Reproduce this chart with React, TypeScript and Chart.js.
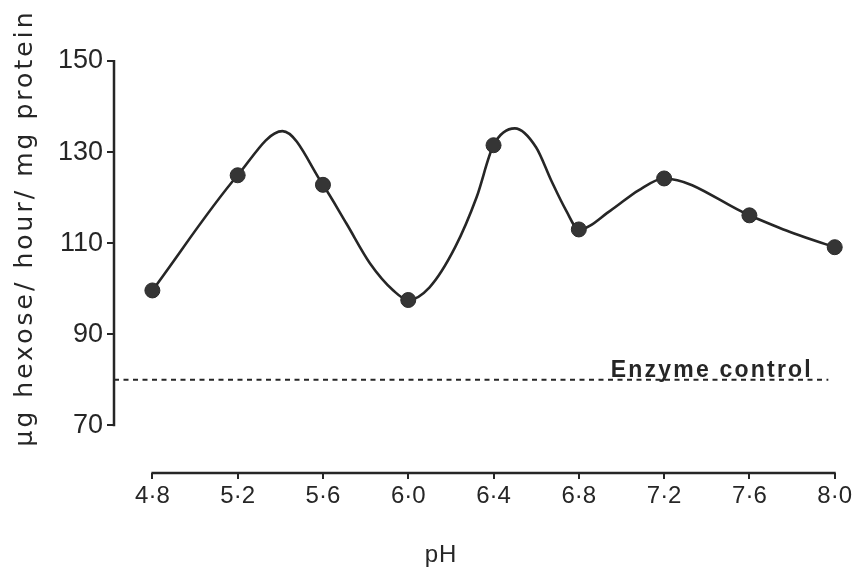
import React, { useEffect, useRef } from 'react';
import { Chart, registerables } from 'chart.js';

Chart.register(...registerables);

// ---- data ----
const PH = [4.8, 5.2, 5.6, 6.0, 6.4, 6.8, 7.2, 7.6, 8.0];
const ACTIVITY = [99.6, 124.9, 122.8, 97.5, 131.5, 113.0, 124.2, 116.1, 109.1];
// hand-drawn smooth curve, read at the measured points and at its visible turning points
const CURVE_PH = [4.8, 5.2, 5.41, 5.6, 5.71, 5.82, 5.93, 6.0, 6.1, 6.22, 6.32, 6.4, 6.5, 6.6, 6.67, 6.74, 6.8, 6.95, 7.08, 7.2, 7.6, 7.81, 8.0];
const CURVE_VAL = [99.6, 124.9, 134.6, 122.8, 114.3, 105.6, 99.6, 97.5, 100.3, 109.1, 120.0, 131.5, 135.2, 131.0, 123.8, 117.2, 113.0, 117.2, 121.6, 124.2, 116.1, 112.1, 109.1];
const ENZYME_CONTROL = 80;
const CONTROL_FROM = 4.62;
const CONTROL_TO = 7.97;
const CONTROL_LABEL = 'Enzyme control';
const CONTROL_LABEL_PH = 6.95;

const X_TICKS = [4.8, 5.2, 5.6, 6.0, 6.4, 6.8, 7.2, 7.6, 8.0];
const X_TICK_LABELS = ['4·8', '5·2', '5·6', '6·0', '6·4', '6·8', '7·2', '7·6', '8·0'];
const Y_TICKS = [70, 90, 110, 130, 150];
const X_TITLE = 'pH';
const Y_TITLE = 'µg hexose/ hour/ mg protein';

const X_MIN = 4.62;
const X_MAX = 8.06;
const Y_MIN = 59.5;
const Y_MAX = 150;

const INK = '#262626';

const decorPlugin = {
  id: 'decor',
  afterDraw(chart: any) {
    const { ctx, chartArea } = chart;
    const x = chart.scales.x;
    const y = chart.scales.y;
    ctx.save();
    ctx.strokeStyle = INK;
    ctx.lineWidth = 2.5;
    ctx.lineCap = 'butt';
    // y axis line (70..150)
    ctx.beginPath();
    ctx.moveTo(chartArea.left, y.getPixelForValue(Y_TICKS[0]) + 1);
    ctx.lineTo(chartArea.left, y.getPixelForValue(Y_TICKS[Y_TICKS.length - 1]) - 1);
    ctx.stroke();
    // x axis line (4.8..8.0)
    ctx.beginPath();
    ctx.moveTo(x.getPixelForValue(X_TICKS[0]) - 1, chartArea.bottom);
    ctx.lineTo(x.getPixelForValue(X_TICKS[X_TICKS.length - 1]) + 1, chartArea.bottom);
    ctx.stroke();

    // control label
    ctx.fillStyle = INK;
    ctx.font = 'bold 23px "Liberation Sans", Arial, sans-serif';
    (ctx as any).letterSpacing = '2.2px';
    ctx.textAlign = 'left';
    ctx.textBaseline = 'alphabetic';
    ctx.fillText(CONTROL_LABEL, x.getPixelForValue(CONTROL_LABEL_PH), y.getPixelForValue(ENZYME_CONTROL) - 3);

    // x title
    (ctx as any).letterSpacing = '1px';
    ctx.font = '24px "Liberation Sans", Arial, sans-serif';
    ctx.textAlign = 'center';
    ctx.fillText(X_TITLE, 441, 562);

    // y title (rotated)
    ctx.font = '25px "DejaVu Sans", sans-serif';
    (ctx as any).letterSpacing = '0px';
    const w = ctx.measureText(Y_TITLE).width;
    const target = 437;
    const ls = Math.max(0, (target - w) / Y_TITLE.length);
    (ctx as any).letterSpacing = ls.toFixed(2) + 'px';
    ctx.translate(32, 228);
    ctx.rotate(-Math.PI / 2);
    ctx.textAlign = 'center';
    ctx.textBaseline = 'alphabetic';
    ctx.fillText(Y_TITLE, 0, 0);
    ctx.restore();
  },
};

export default function App() {
  const ref = useRef<HTMLCanvasElement | null>(null);
  useEffect(() => {
    if (!ref.current) return;
    const chart = new Chart(ref.current, {
      type: 'scatter',
      data: {
        datasets: [
          {
            label: 'points',
            data: PH.map((p, i) => ({ x: p, y: ACTIVITY[i] })),
            pointRadius: 7.5,
            pointBackgroundColor: '#353535',
            pointBorderColor: '#2a2a2a',
            pointBorderWidth: 1,
            showLine: false,
          },
          {
            label: 'curve',
            data: CURVE_PH.map((p, i) => ({ x: p, y: CURVE_VAL[i] })),
            showLine: true,
            pointRadius: 0,
            borderColor: INK,
            borderWidth: 2.6,
            cubicInterpolationMode: 'monotone',
            tension: 0.4,
          },
          {
            label: 'control',
            data: [
              { x: CONTROL_FROM, y: ENZYME_CONTROL },
              { x: CONTROL_TO, y: ENZYME_CONTROL },
            ],
            showLine: true,
            pointRadius: 0,
            borderColor: INK,
            borderWidth: 2,
            borderDash: [5, 4.5],
          },
        ],
      },
      options: {
        animation: false,
        responsive: false,
        devicePixelRatio: 1,
        layout: { padding: { left: 0, top: 61, right: 6, bottom: 0 } },
        plugins: { legend: { display: false }, tooltip: { enabled: false }, title: { display: false } },
        scales: {
          x: {
            type: 'linear',
            min: X_MIN,
            max: X_MAX,
            afterBuildTicks: (s: any) => {
              s.ticks = X_TICKS.map((v) => ({ value: v }));
            },
            afterFit: (s: any) => {
              s.height = 94;
            },
            ticks: {
              callback: (_v: any, i: number) => X_TICK_LABELS[i],
              font: { family: '"Liberation Sans", Arial, sans-serif', size: 24 },
              color: INK,
              padding: 3,
              maxRotation: 0,
              autoSkip: false,
            },
            grid: { display: true, drawOnChartArea: false, drawTicks: true, tickLength: 6, color: INK, lineWidth: 2 },
            border: { display: false },
          },
          y: {
            type: 'linear',
            min: Y_MIN,
            max: Y_MAX,
            afterBuildTicks: (s: any) => {
              s.ticks = Y_TICKS.map((v) => ({ value: v }));
            },
            afterFit: (s: any) => {
              s.width = 114;
            },
            ticks: {
              callback: (v: any) => String(v),
              font: { family: '"Liberation Sans", Arial, sans-serif', size: 27 },
              color: INK,
              padding: 4,
              autoSkip: false,
            },
            grid: { display: true, drawOnChartArea: false, drawTicks: true, tickLength: 7, color: INK, lineWidth: 2 },
            border: { display: false },
          },
        },
      },
      plugins: [decorPlugin],
    } as any);
    return () => chart.destroy();
  }, []);
  return (
    <div style={{ position: 'fixed', left: 0, top: 0, width: 856, height: 567, background: '#fff' }}>
      <canvas ref={ref} width={856} height={567} style={{ display: 'block' }} />
    </div>
  );
}
